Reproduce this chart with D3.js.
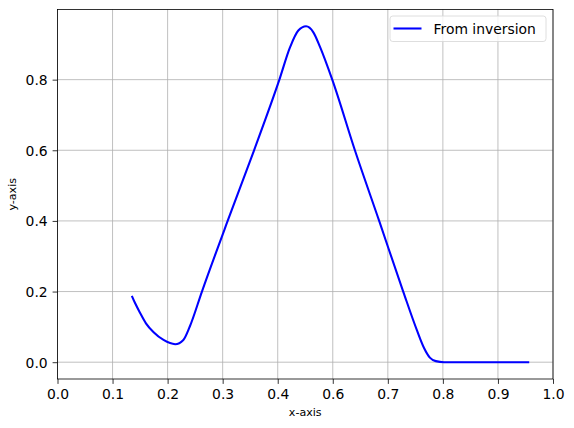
<!DOCTYPE html>
<html>
<head>
<meta charset="utf-8">
<script src="https://cdn.jsdelivr.net/npm/d3@7"></script>
<style>
  body { margin: 0; background: #fff; }
  text { font-family: "DejaVu Sans", sans-serif; fill: #000; }
</style>
</head>
<body>
<svg id="chart" width="574" height="428"></svg>
<script>
// curve
const xValues = [0.150, 0.157, 0.1665, 0.1785, 0.194, 0.214, 0.2375, 0.254, 0.267, 0.2915,
  0.3434, 0.3967, 0.4478, 0.4694, 0.486, 0.5017, 0.5164, 0.530, 0.5545, 0.6002,
  0.6492, 0.6977, 0.7255, 0.7395, 0.7515, 0.7635, 0.780, 0.812, 0.952];
const yValues = [0.188, 0.166, 0.140, 0.110, 0.085, 0.063, 0.051, 0.063, 0.101, 0.200,
  0.400, 0.600, 0.800, 0.892, 0.939, 0.951, 0.934, 0.892, 0.800, 0.600,
  0.400, 0.200, 0.090, 0.041, 0.013, 0.003, 0.0, 0.0, 0.0];

const xTicks = [0, 1 / 9, 2 / 9, 3 / 9, 4 / 9, 5 / 9, 6 / 9, 7 / 9, 8 / 9, 1];
const xTickLabels = ["0.0", "0.1", "0.2", "0.3", "0.4", "0.6", "0.7", "0.8", "0.9", "1.0"];
const yTicks = [0, 0.2, 0.4, 0.6, 0.8];
const yTickLabels = ["0.0", "0.2", "0.4", "0.6", "0.8"];
const seriesName = "From inversion";

const margin = { left: 57.5, right: 553, top: 9.5, bottom: 379 };
const svg = d3.select("#chart");

const x = d3.scaleLinear().domain([0, 1]).range([margin.left, margin.right]);
const y = d3.scaleLinear().domain([-0.0476, 0.9986]).range([margin.bottom, margin.top]);

// grid
const grid = svg.append("g").attr("stroke", "#b0b0b0").attr("stroke-width", 0.8);
grid.selectAll(".gx").data(xTicks).enter().append("line")
  .attr("x1", (d) => x(d)).attr("x2", (d) => x(d))
  .attr("y1", margin.top).attr("y2", margin.bottom);
grid.selectAll(".gy").data(yTicks).enter().append("line")
  .attr("y1", (d) => y(d)).attr("y2", (d) => y(d))
  .attr("x1", margin.left).attr("x2", margin.right);

// the line
const pts = xValues.map((v, i) => [v, yValues[i]]);
svg.append("path")
  .datum(pts)
  .attr("fill", "none")
  .attr("stroke", "#0000ff")
  .attr("stroke-width", 2.08)
  .attr("stroke-linejoin", "round")
  .attr("d", d3.line().x((d) => x(d[0])).y((d) => y(d[1])).curve(d3.curveMonotoneX));

// axes
const xAxis = d3.axisBottom(x).tickValues(xTicks).tickSize(4.9).tickPadding(4.9)
  .tickFormat((d, i) => xTickLabels[i]);
const yAxis = d3.axisLeft(y).tickValues(yTicks).tickSize(4.9).tickPadding(4.9)
  .tickFormat((d, i) => yTickLabels[i]);

const gx = svg.append("g").attr("transform", `translate(0,${margin.bottom})`).call(xAxis);
const gy = svg.append("g").attr("transform", `translate(${margin.left},0)`).call(yAxis);
[gx, gy].forEach((g) => {
  g.select(".domain").remove();
  g.selectAll(".tick line").attr("stroke", "#000").attr("stroke-width", 0.8);
  g.selectAll(".tick text").style("font-size", "13.9px").attr("font-family", "DejaVu Sans");
});
gy.selectAll(".tick text").attr("dy", "0.36em");

// frame
svg.append("rect")
  .attr("x", margin.left).attr("y", margin.top)
  .attr("width", margin.right - margin.left).attr("height", margin.bottom - margin.top)
  .attr("fill", "none").attr("stroke", "#000").attr("stroke-width", 0.8);

// axis labels
svg.append("text")
  .attr("x", (margin.left + margin.right) / 2).attr("y", 416)
  .attr("text-anchor", "middle").style("font-size", "11.1px")
  .text("x-axis");
svg.append("text")
  .attr("transform", `translate(16,${(margin.top + margin.bottom) / 2}) rotate(-90)`)
  .attr("text-anchor", "middle").style("font-size", "11.1px")
  .text("y-axis");

// legend
const legend = svg.append("g");
legend.append("rect")
  .attr("x", 390).attr("y", 16).attr("width", 156).attr("height", 25.5)
  .attr("rx", 2.8).attr("fill", "#fff").attr("fill-opacity", 0.8)
  .attr("stroke", "#d6d6d6").attr("stroke-width", 0.8);
legend.append("line")
  .attr("x1", 393.5).attr("x2", 421.5).attr("y1", 28.5).attr("y2", 28.5)
  .attr("stroke", "#0000ff").attr("stroke-width", 2.08);
legend.append("text")
  .attr("x", 433.5).attr("y", 33.5).style("font-size", "13.9px")
  .text(seriesName);
</script>
</body>
</html>
